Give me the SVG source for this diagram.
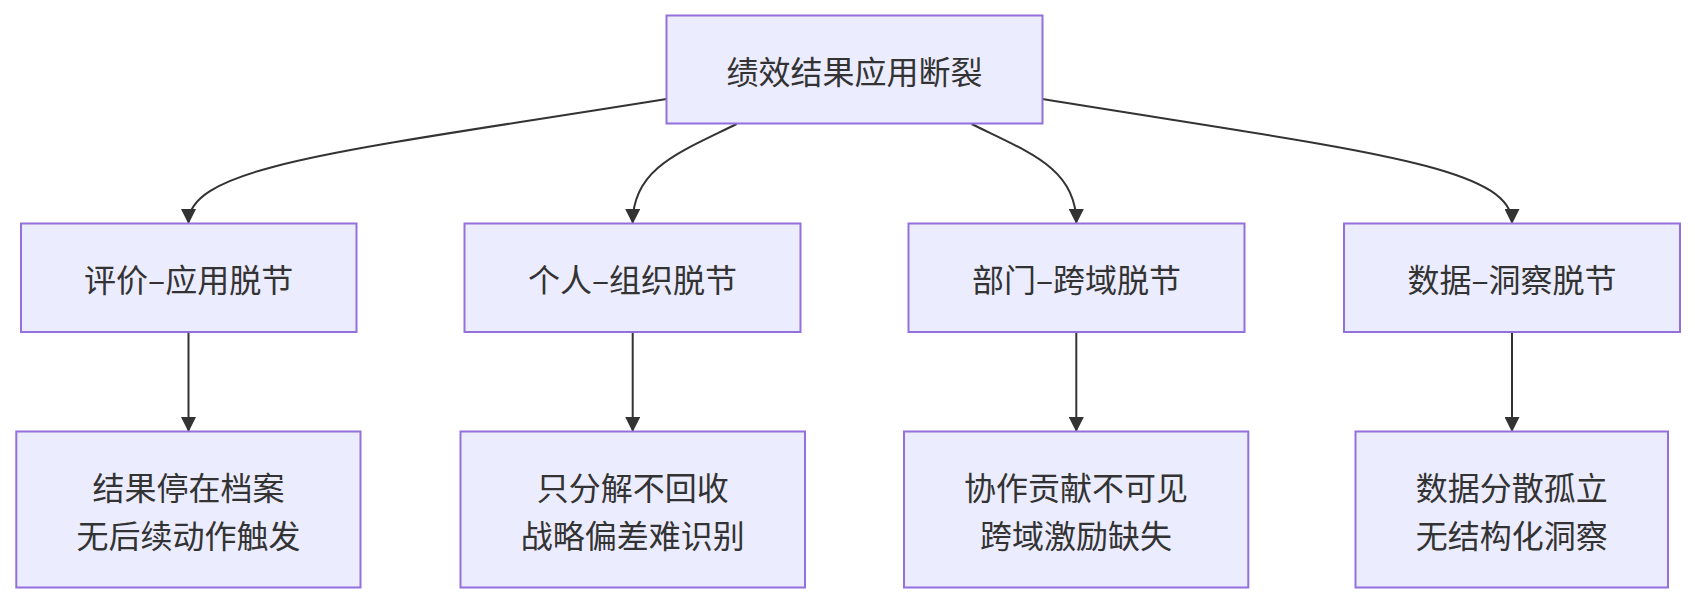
<svg xmlns="http://www.w3.org/2000/svg" width="1695" height="604" viewBox="0 0 1695 604">
<style>
.node rect{fill:#ECECFF;stroke:#9370DB;stroke-width:2}
.node text{font-family:"Noto Sans CJK SC","Noto Sans",sans-serif;font-size:32px;fill:#333333;text-anchor:middle;dominant-baseline:central}
.dash{font-feature-settings:"fwid"}
.edges path{fill:none;stroke:#333333;stroke-width:2;marker-end:url(#arrow)}
</style>
<defs>
<marker id="arrow" viewBox="0 0 10 10" refX="9" refY="5" markerUnits="userSpaceOnUse" markerWidth="15" markerHeight="15" orient="auto">
<path d="M0,0 L10,5 L0,10 z" fill="#333333"/>
</marker>
</defs>
<rect width="1695" height="604" fill="#ffffff"/>
<g class="edges">
<path d="M666.5,99 C350,150 188.5,165 188.5,222.5"/>
<path d="M736.6,124 C680,152 632.7,168 632.7,222.5"/>
<path d="M971.6,124 C1028,152 1076.3,168 1076.3,222.5"/>
<path d="M1042.5,99 C1355,150 1512,165 1512,222.5"/>
<path d="M188.5,332 L188.5,430.5"/>
<path d="M632.7,332 L632.7,430.5"/>
<path d="M1076.3,332 L1076.3,430.5"/>
<path d="M1512,332 L1512,430.5"/>
</g>
<g id="root" class="node"><rect x="666.5" y="15.5" width="376" height="108"/><text x="854.5" y="69.5">绩效结果应用断裂</text></g>
<g id="a" class="node"><rect x="21" y="223.5" width="335.5" height="108.5"/><text x="188.7" y="277.7">评价<tspan class="dash">–</tspan>应用脱节</text></g>
<g id="b" class="node"><rect x="464.5" y="223.5" width="336" height="108.5"/><text x="632.5" y="277.7">个人<tspan class="dash">–</tspan>组织脱节</text></g>
<g id="c" class="node"><rect x="908.5" y="223.5" width="336" height="108.5"/><text x="1076.5" y="277.7">部门<tspan class="dash">–</tspan>跨域脱节</text></g>
<g id="d" class="node"><rect x="1344" y="223.5" width="336" height="108.5"/><text x="1512" y="277.7">数据<tspan class="dash">–</tspan>洞察脱节</text></g>
<g id="e" class="node"><rect x="16.3" y="431.5" width="344.2" height="156"/><text x="188.4" y="485.5">结果停在档案</text><text x="188.4" y="533.5">无后续动作触发</text></g>
<g id="f" class="node"><rect x="460.5" y="431.5" width="344.5" height="156"/><text x="632.7" y="485.5">只分解不回收</text><text x="632.7" y="533.5">战略偏差难识别</text></g>
<g id="g" class="node"><rect x="904" y="431.5" width="344.3" height="156"/><text x="1076.1" y="485.5">协作贡献不可见</text><text x="1076.1" y="533.5">跨域激励缺失</text></g>
<g id="h" class="node"><rect x="1355.5" y="431.5" width="312.5" height="156"/><text x="1511.7" y="485.5">数据分散孤立</text><text x="1511.7" y="533.5">无结构化洞察</text></g>
</svg>
